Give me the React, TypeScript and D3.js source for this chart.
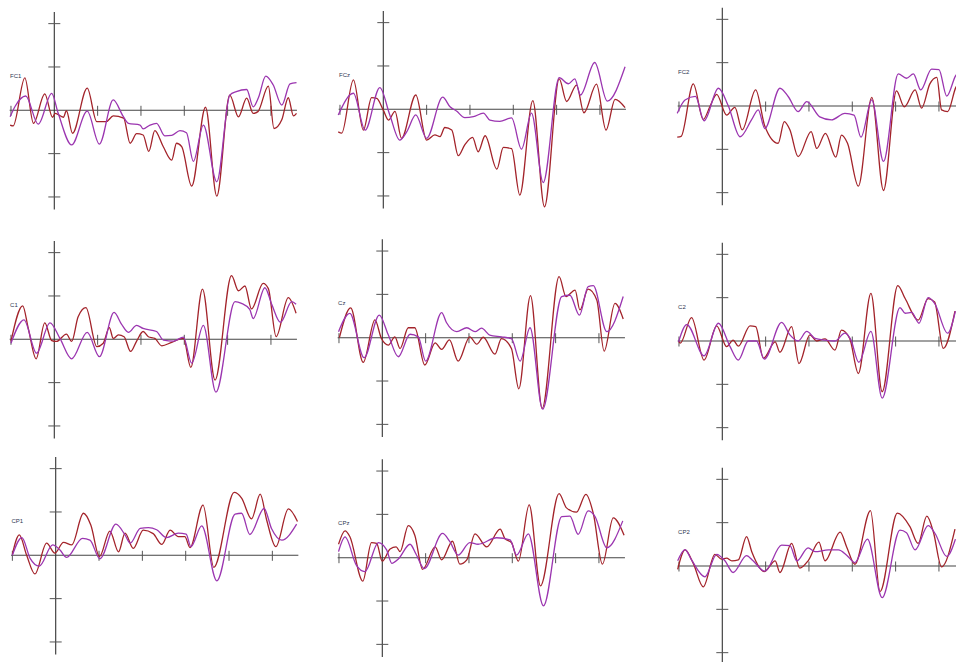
import React from "react";
import * as d3 from "d3";

type P = [number, number];

const channels = ["FC1", "FCz", "FC2", "C1", "Cz", "C2", "CP1", "CPz", "CP2"];

const fc1A: P[] = [[-102,-3.4],[-95,-3.6],[-68,7.5],[-48,-3],[-22,3.8],[-4,-1.6],[2,-0.7],[21,-1.6],[28,-0.1],[42,-5.3],[76,5.1],[98,-2.6],[120,-2.6],[136,-1.3],[160,-1.8],[175,-7.6],[190,-5.4],[205,-5.7],[218,-9.5],[232,-4.7],[251,-8.3],[271,-11.5],[282,-7.6],[294,-8.4],[317,-17.5],[349,0.7],[375,-19.8],[405,3.5],[425,-1.5],[444,2.8],[459,-0.7],[470,-0.3],[494,5.6],[507,-4.2],[525,-2.2],[540,2.9],[552,-1.3],[559,-0.7]];
const fc1B: P[] = [[-102,-1.5],[-90,1],[-66,3.3],[-37,-3.2],[-6,3.9],[9,-0.7],[40,-8],[76,-0.2],[104,-7.8],[136,2.4],[159,-1.4],[171,-3],[198,-3.4],[205,-4.3],[221,-3.4],[236,-3],[255,-5.9],[271,-5.8],[290,-4.7],[305,-5.2],[321,-11.8],[344,-3.4],[375,-16.5],[405,3.5],[420,4.3],[444,4.8],[459,0.8],[471,2.9],[488,7.9],[505,5.9],[525,1.2],[544,6.1],[559,6.4]];

const fczA: P[] = [[-104,-5.2],[-96,-5.5],[-69,6.8],[-46,-4.8],[-27,2.7],[-15,2.5],[0,-0.2],[12,-2.5],[27,-0.5],[42,-6.7],[75,3.3],[100,-7.1],[119,-5.9],[131,-6.3],[142,-4.2],[158,-4.8],[173,-10.7],[188,-8.2],[206,-6.5],[219,-9.8],[235,-6.1],[262,-13.8],[277,-8.8],[296,-9.1],[315,-19.8],[345,2],[372,-22.5],[406,7],[423,1.8],[446,5.6],[463,-0.8],[492,5.8],[514,-4.8],[535,2.3],[558,0.4]];
const fczB: P[] = [[-104,-1.3],[-69,3.7],[-42,-4.8],[-8,5],[15,-1.3],[38,-7.1],[54,-5.2],[75,-1.3],[100,-6.7],[137,2.8],[154,0.6],[169,-0.4],[188,-1.9],[208,-1.7],[231,-0.9],[246,-2.5],[269,-2.8],[296,-2],[319,-9.2],[342,-0.9],[369,-16.9],[406,7.3],[427,5.9],[442,7],[455,3.3],[488,10.8],[517,1.9],[558,9.8]];

const fc2A: P[] = [[-104,-7.2],[-95,-7],[-67,5.1],[-44,-3.1],[-28,0],[-13,2.7],[10,-2.1],[29,-0.3],[46,-5.5],[77,3.7],[98,-4.6],[129,-8.6],[143,-3.6],[156,-5.5],[175,-11.7],[205,-5.9],[218,-9.8],[238,-6.3],[262,-11.8],[275,-6.7],[289,-8.6],[314,-18.5],[345,2],[372,-19.5],[402,3.5],[420,-0.2],[445,3.7],[460,-0.5],[479,5.1],[495,6.6],[506,-0.9],[520,-1.3],[539,4.3],[555,6]];
const fc2B: P[] = [[-104,-1.7],[-86,1.4],[-62,2.2],[-42,-3.4],[-9,4.1],[14,0],[41,-7.1],[68,-3.1],[83,-0.9],[98,-5.2],[133,4.1],[152,2.2],[175,-1.3],[195,1],[225,-2.5],[252,-3.2],[283,-1.7],[304,-2.1],[320,-7.2],[345,1.4],[372,-12.8],[406,7.4],[425,6.4],[441,7.4],[458,3.7],[483,8.5],[500,8.4],[518,2.3],[538,6.9],[555,9]];

const c1A: P[] = [[-100,-0.5],[-73,7.7],[-60,2.5],[-42,-4.5],[-22,3.8],[-6,-0.3],[5,-0.5],[28,1.2],[40,-0.5],[55,5.2],[73,7.3],[98,-1.7],[113,-0.9],[127,2.7],[136,0.2],[148,1],[161,0.6],[176,-2.8],[190,-0.4],[205,1.8],[217,0.6],[232,0.2],[248,-1.5],[271,-0.7],[298,0.2],[315,-6.5],[342,11.6],[371,-9.4],[409,14.7],[425,11.2],[440,12.3],[455,7],[482,12.9],[494,11.7],[512,0.6],[540,9.6],[558,6]];
const c1B: P[] = [[-100,-0.9],[-70,4.5],[-41,-3.2],[-10,3.8],[13,0.2],[40,-4.5],[76,1.6],[104,-4],[138,6.2],[155,3.5],[171,1.6],[190,3.2],[205,2.5],[236,1.8],[252,-0.2],[275,-0.4],[298,0.5],[317,-5.5],[344,3.2],[373,-12.2],[417,8.7],[432,8.3],[451,6.9],[459,4.8],[486,11.9],[502,8],[522,3.9],[548,8.7],[558,8.1]];

const czA: P[] = [[-99,0],[-73,6.9],[-44,-5.7],[-17,4.1],[-2,-0.2],[14,-1.7],[29,0.2],[41,-2.5],[60,2.3],[75,2.3],[98,-6.3],[122,-1.2],[137,-2.7],[155,-0.5],[175,-5.4],[202,0.2],[218,-1.5],[233,0.1],[260,-3.8],[275,-0.2],[298,-2.5],[315,-11.8],[342,9.7],[369,-16.3],[408,14.1],[424,9.5],[445,11],[456,6.4],[475,11.2],[495,8.7],[512,-3.1],[537,7.9],[556,4.3]];
const czB: P[] = [[-101,1.4],[-75,5.6],[-42,-4.6],[-7,5.2],[14,0.6],[37,-4.4],[64,0.8],[83,0.2],[100,-5.4],[137,5.8],[148,3.5],[172,1.4],[195,2.3],[214,1.4],[229,2.2],[248,0.6],[275,0.2],[298,-0.2],[318,-5.4],[341,2.3],[370,-16.5],[414,9.5],[433,9.8],[455,5.2],[475,11.8],[487,12],[518,1.4],[556,9.5]];

const c2A: P[] = [[-101,0],[-97,-0.5],[-71,5.4],[-42,-4.4],[-13,3.5],[10,-1.3],[25,0.2],[37,-1.2],[64,3.5],[77,3.3],[95,-4],[122,-0.2],[133,-2.6],[160,3.3],[177,-5.2],[202,1.4],[218,0],[237,0.5],[260,-2.1],[275,2.5],[294,0.6],[314,-7.5],[343,11],[369,-11.7],[405,12.8],[422,9.8],[452,4.8],[475,9.8],[490,9],[510,-1.7],[537,6.9]];
const c2B: P[] = [[-101,-0.2],[-82,3.8],[-42,-3.4],[-9,4.1],[18,-1.3],[37,-4.4],[60,0],[79,0],[97,-4.2],[137,4.3],[156,1.4],[175,0],[195,2.2],[214,0.6],[237,0.2],[260,0],[283,1.8],[297,0.2],[315,-4.9],[343,2.2],[369,-13.2],[410,7.7],[422,6.4],[437,6.6],[454,4.1],[475,10],[490,8.7],[520,1.8],[538,6.9]];

const cp1A: P[] = [[-100,0.2],[-84,4.7],[-67,0],[-48,-4.3],[-21,2.8],[-2,0.5],[18,3],[37,2.4],[64,9.7],[81,7],[101,-0.3],[125,5.6],[145,0.8],[160,5.1],[179,1.6],[202,5.8],[225,5],[245,2.5],[264,5.8],[283,4.3],[298,4.3],[310,1.8],[340,11.6],[365,-2.8],[412,14.5],[429,13.2],[452,8.4],[472,14.1],[487,8.1],[508,2],[537,10.7],[558,7.8]];
const cp1B: P[] = [[-100,0],[-78,4.1],[-59,-0.7],[-38,-2.5],[-7,2.4],[10,1.2],[25,-0.5],[62,3.9],[79,3.5],[102,-0.8],[139,7.2],[160,4.7],[172,2.8],[195,6.2],[214,6.4],[233,5.9],[256,4.1],[283,5.1],[301,4.9],[312,2],[337,6.8],[372,-5.9],[414,9.5],[429,9.7],[448,4.8],[481,10.8],[498,6.2],[522,3.5],[556,7.2]];

const cpzA: P[] = [[-101,3.1],[-86,6.2],[-75,4.9],[-45,-5.4],[-25,3.5],[-13,3.3],[0,-0.8],[18,2],[32,2.5],[41,1.4],[60,7.4],[75,5.2],[93,-2.7],[122,2.5],[137,-0.5],[162,3.8],[179,-1.5],[195,-0.5],[214,5.5],[241,2.5],[272,6.6],[283,4.4],[298,3.5],[314,-0.8],[339,12.2],[365,-6.5],[408,14.8],[425,11.5],[448,10.5],[470,14.6],[487,10.2],[508,-1.5],[533,9.2],[558,5.2]];
const cpzB: P[] = [[-101,1.4],[-86,4.8],[-60,-1.7],[-40,-3.2],[-9,3.5],[10,1.8],[22,-1.3],[37,-0.3],[64,3.1],[78,0.8],[97,-2.5],[139,5.6],[156,3.7],[175,0.6],[202,3.5],[221,3.1],[264,4.6],[295,4.1],[310,0.6],[337,5.5],[372,-11.1],[414,9.5],[433,9.6],[452,5.4],[475,10.8],[491,9.5],[518,2.3],[555,8.5]];

const cp2A: P[] = [[-103,-0.8],[-86,3.7],[-67,0.6],[-44,-4.8],[-17,2.7],[-2,1.6],[10,1.8],[22,1.2],[37,1.4],[56,6.8],[68,3.3],[97,-1.3],[122,1.2],[133,-1.5],[160,5.2],[179,-0.5],[198,1.2],[223,5.5],[237,1.2],[272,7.8],[287,4.4],[306,0.4],[342,12.8],[364,-5.9],[404,12.2],[433,9.1],[452,5.2],[472,11.5],[487,7.9],[506,-0.2],[537,8.5]];
const cp2B: P[] = [[-103,1.2],[-86,3.8],[-71,1.4],[-40,-2.5],[-13,2.7],[6,1.2],[25,-1.5],[56,2.4],[71,1.2],[98,-1.2],[137,4.8],[156,4.7],[172,1.2],[198,4.2],[214,3.3],[245,3.7],[268,3.7],[287,2.5],[306,0.8],[335,6.2],[369,-7.3],[410,8.3],[425,7.7],[445,3.7],[475,9.3],[491,7.5],[518,2.2],[538,6.2]];

const seriesA: P[][] = [fc1A, fczA, fc2A, c1A, czA, c2A, cp1A, cpzA, cp2A];
const seriesB: P[][] = [fc1B, fczB, fc2B, c1B, czB, c2B, cp1B, cpzB, cp2B];

const xTicks = [-100, 100, 200, 300, 400, 500];
const yTicks = [-20, -10, 10, 20];

// layout: per-panel origin (y-axis x position, zero-line y position)
const originX = [54.3, 383.3, 722.3, 54.3, 382.3, 722.3, 55.7, 382.3, 722.3];
const originY = [110.3, 109.3, 106, 339.3, 337.7, 341, 555.3, 557.7, 566];

const PX_PER_MS = 43.33 / 100;
const PX_PER_UV = 4.333;

const colorA = "#a3232a";
const colorB = "#9b35b0";

function Panel({ i }: { i: number }) {
  const ox = originX[i];
  const oy = originY[i];
  const x = d3.scaleLinear().domain([0, 100]).range([ox, ox + 100 * PX_PER_MS]);
  const y = d3.scaleLinear().domain([0, 10]).range([oy, oy - 10 * PX_PER_UV]);
  const line = d3
    .line<P>()
    .x((d) => x(d[0]))
    .y((d) => y(d[1]))
    .curve(d3.curveMonotoneX);
  return (
    <g>
      <line x1={x(-103)} x2={x(560)} y1={y(0)} y2={y(0)} stroke="#444" strokeWidth={1.1} />
      <line x1={x(0)} x2={x(0)} y1={y(22.7)} y2={y(-22.9)} stroke="#333" strokeWidth={1.1} />
      {yTicks.map((t) => (
        <line key={"y" + t} x1={x(0) - 6} x2={x(0) + 6} y1={y(t)} y2={y(t)} stroke="#555" strokeWidth={1} />
      ))}
      {xTicks.map((t) => (
        <line key={"x" + t} x1={x(t)} x2={x(t)} y1={y(0) - 4.5} y2={y(0) + 5.5} stroke="#555" strokeWidth={1} />
      ))}
      <text
        x={x(-102)}
        y={y(0) - 32.5}
        fontSize={6}
        fontFamily="Liberation Sans, Arial, sans-serif"
        fill="#2d3550"
      >
        {channels[i]}
      </text>
      <path d={line(seriesA[i]) || ""} fill="none" stroke={colorA} strokeWidth={1.3} strokeLinejoin="round" />
      <path d={line(seriesB[i]) || ""} fill="none" stroke={colorB} strokeWidth={1.3} strokeLinejoin="round" />
    </g>
  );
}

export default function App() {
  return (
    <svg
      width={956}
      height={662}
      style={{ position: "absolute", left: 0, top: 0, background: "#fff" }}
    >
      <rect x={0} y={0} width={956} height={662} fill="#fff" />
      {channels.map((_, i) => (
        <Panel key={i} i={i} />
      ))}
    </svg>
  );
}
